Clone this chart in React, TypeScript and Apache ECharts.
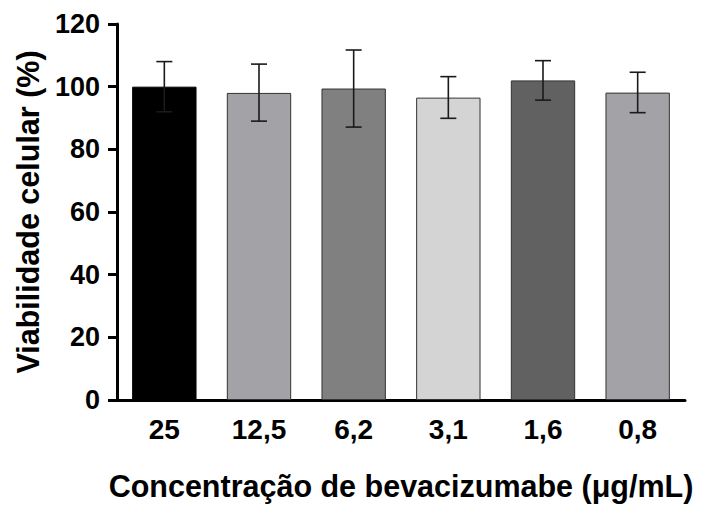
import React, { useEffect, useRef } from "react";
import * as echarts from "echarts";

const categories = ["25", "12,5", "6,2", "3,1", "1,6", "0,8"];
const means = [100, 98, 99.4, 96.5, 102, 98.1];
const errLow = [92, 89, 87.1, 89.9, 95.7, 91.7];
const errHigh = [108, 107.2, 111.7, 103.2, 108.3, 104.6];
const barColors = ["#000000", "#a3a2a7", "#808080", "#d4d4d4", "#616161", "#a3a2a7"];
const yTicks = [0, 20, 40, 60, 80, 100, 120];

const FONT = "'Liberation Sans', Arial, sans-serif";

export default function App() {
  const ref = useRef<HTMLDivElement>(null);
  useEffect(() => {
    if (!ref.current) return;
    const chart = echarts.init(ref.current, null, { renderer: "svg" });
    chart.setOption({
      animation: false,
      backgroundColor: "#ffffff",
      grid: { left: 117, top: 24, width: 568, height: 376, containLabel: false, outerBoundsMode: "none" },
      xAxis: {
        type: "category",
        data: categories,
        name: "Concentração de bevacizumabe (μg/mL)",
        nameLocation: "middle",
        nameGap: 70,
        nameTextStyle: { fontFamily: FONT, fontWeight: "bold", fontSize: 30.5, color: "#000" },
        axisLine: { lineStyle: { color: "#000", width: 3 } },
        axisTick: { alignWithLabel: true, length: 9, lineStyle: { color: "#000", width: 3 } },
        axisLabel: { fontFamily: FONT, fontWeight: "bold", fontSize: 28, color: "#000", margin: 15 },
      },
      yAxis: {
        type: "value",
        min: yTicks[0],
        max: yTicks[yTicks.length - 1],
        interval: 20,
        name: "Viabilidade celular (%)",
        nameLocation: "middle",
        nameGap: 74,
        nameTextStyle: { fontFamily: FONT, fontWeight: "bold", fontSize: 30.5, color: "#000" },
        axisLine: { show: true, lineStyle: { color: "#000", width: 3 } },
        axisTick: { show: true, length: 9, lineStyle: { color: "#000", width: 3 } },
        axisLabel: { fontFamily: FONT, fontWeight: "bold", fontSize: 27, color: "#000", margin: 17 },
        splitLine: { show: false },
      },
      series: [
        {
          type: "bar",
          barWidth: "68%",
          data: means.map((v, i) => ({
            value: v,
            itemStyle: { color: barColors[i], borderColor: i === 0 ? "#000" : "#333", borderWidth: 1 },
          })),
        },
        {
          type: "custom",
          data: means.map((_, i) => [i, errLow[i], errHigh[i]]),
          renderItem: (params: any, api: any) => {
            const x = api.value(0);
            const lo = api.coord([x, api.value(1)]);
            const hi = api.coord([x, api.value(2)]);
            const cap = 8;
            const style = { stroke: "#1a1a1a", lineWidth: 1.6 };
            return {
              type: "group",
              children: [
                { type: "line", shape: { x1: hi[0], y1: hi[1], x2: lo[0], y2: lo[1] }, style },
                { type: "line", shape: { x1: hi[0] - cap, y1: hi[1], x2: hi[0] + cap, y2: hi[1] }, style },
                { type: "line", shape: { x1: lo[0] - cap, y1: lo[1], x2: lo[0] + cap, y2: lo[1] }, style },
              ],
            };
          },
          z: 10,
        },
      ],
    });
    return () => chart.dispose();
  }, []);
  return (
    <div
      ref={ref}
      style={{ position: "absolute", left: 0, top: 0, width: 701, height: 505, background: "#fff" }}
    />
  );
}
